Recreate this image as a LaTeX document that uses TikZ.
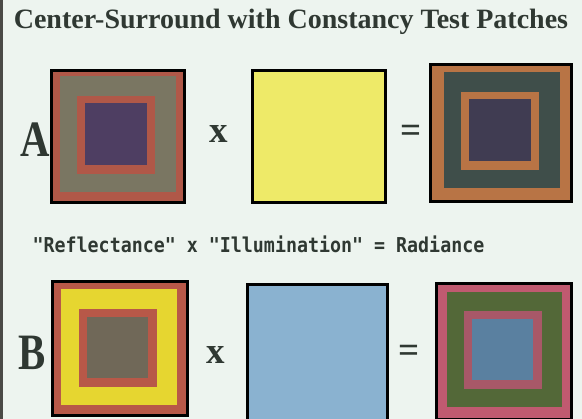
\documentclass[tikz,border=0pt]{standalone}
\usepackage{fontspec}
\setmainfont{Liberation Serif}
\newfontfamily\dotfont{DejaVu Sans Mono}
\usepackage{tikz}
\usetikzlibrary{positioning}
\definecolor{paper}{HTML}{EDF4EF}
\definecolor{ink}{HTML}{2F3832}
\definecolor{spine}{HTML}{4A4A46}
\definecolor{aring}{HTML}{B05848}
\definecolor{agray}{HTML}{7A7662}
\definecolor{aviolet}{HTML}{4E3E62}
\definecolor{ayellow}{HTML}{EEEA68}
\definecolor{aorange}{HTML}{B87445}
\definecolor{aslate}{HTML}{3F4E4A}
\definecolor{adusk}{HTML}{403C52}
\definecolor{bring}{HTML}{B85848}
\definecolor{byellow}{HTML}{E6D630}
\definecolor{btaupe}{HTML}{706858}
\definecolor{bblue}{HTML}{8AB2D0}
\definecolor{bpink}{HTML}{C05A70}
\definecolor{bmoss}{HTML}{536838}
\definecolor{brose}{HTML}{A85868}
\definecolor{bsteel}{HTML}{5A80A0}

\begin{document}
\begin{tikzpicture}[x=1pt, y=-1pt,
  every node/.style={inner sep=0pt, outer sep=0pt, text=ink},
  frame/.style={draw=black, line width=3pt},
  layer/.style={minimum width=#1, minimum height=#1},
  title/.style={font=\bfseries\fontsize{28}{28}\selectfont},
  letter/.style={font=\bfseries\fontsize{51}{51}\selectfont, xscale=0.8},
  op/.style={font=\bfseries\fontsize{37}{37}\selectfont},
  caption/.style={font=\dotfont\bfseries\fontsize{18.3}{18.3}\selectfont, yscale=1.12},
]

\clip (0,0) rectangle (582,419);
\fill[paper] (0,0) rectangle (582,419);
\fill[spine] (0,0) rectangle (3,419);

\node[title] (head) at (291,22) {Center-Surround with Constancy Test Patches};

% row A
\node[letter, anchor=base west] (alab) at (20,157) {A};
\node[frame, fill=aring, minimum width=133, minimum height=132] (arefl) at (118,136.5) {};
\node[layer=116, fill=agray]   (asurr) at (118,134) {};
\node[layer=78, fill=aring]    (ainner) at (116,135.5) {};
\node[layer=62, fill=aviolet]  (acore) at (116,134.5) {};

\node[op] (atimes) at (219,134) {x};
\node[frame, fill=ayellow, minimum width=133, minimum height=132] (aillum) at (319,136.5) {};
\node[op] (aequals) at (411,133.5) {=};

\node[frame, fill=aorange, minimum width=141, minimum height=137] (arad) at (501,133) {};
\node[layer=116, fill=aslate]  (aradsurr) at (502,130.5) {};
\node[layer=78, fill=aorange]  (aradinner) at (500,131.5) {};
\node[layer=62, fill=adusk]    (aradcore) at (500,130) {};

\node[caption] (legend) at (258.5,244)
  {"Reflectance" x "Illumination" = Radiance};

% row B
\node[letter, anchor=base west] (blab) at (19,370) {B};
\node[frame, fill=bring, minimum width=135, minimum height=134] (brefl) at (120,348.5) {};
\node[layer=116, fill=byellow] (bsurr) at (118.5,347.5) {};
\node[layer=78, fill=bring]    (binner) at (118,348.5) {};
\node[layer=61, fill=btaupe]   (bcore) at (117.5,347.5) {};

\node[op] (btimes) at (216,355) {x};
\node[frame, fill=bblue, minimum width=140, minimum height=136] (billum) at (317.5,352.5) {};
\node[op] (bequals) at (409,354) {=};

\node[frame, fill=bpink, minimum width=135, minimum height=136] (brad) at (504,351.5) {};
\node[layer=115, fill=bmoss]   (bradsurr) at (504.5,350) {};
\node[layer=78, fill=brose]    (bradinner) at (502.5,350.5) {};
\node[layer=61, fill=bsteel]   (bradcore) at (502.5,349.5) {};

\end{tikzpicture}
\end{document}
